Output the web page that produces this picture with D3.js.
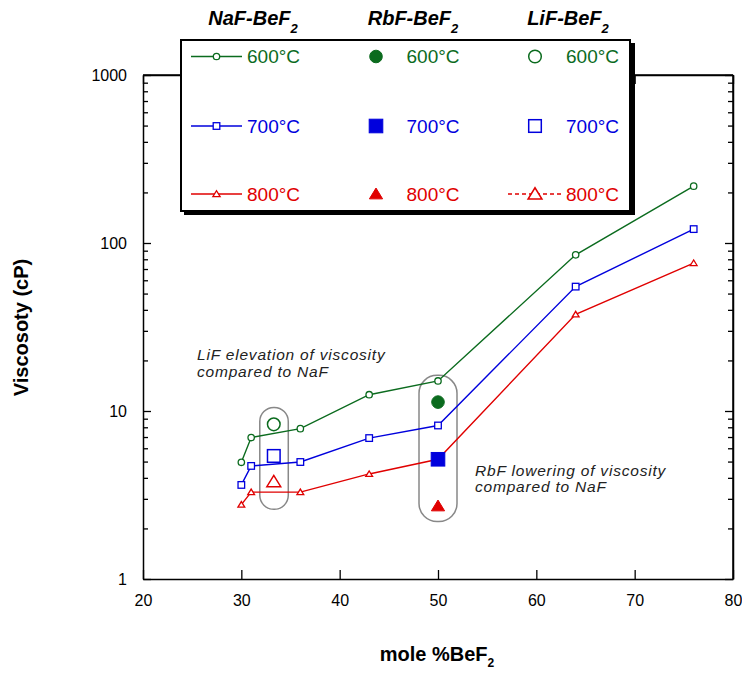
<!DOCTYPE html>
<html>
<head>
<meta charset="utf-8">
<script src="https://cdn.jsdelivr.net/npm/d3@7"></script>
<style>
  html, body { margin: 0; padding: 0; background: #fff; }
  svg { display: block; font-family: "Liberation Sans", Arial, Helvetica, sans-serif; }
</style>
</head>
<body>
<svg id="chart" width="742" height="675"></svg>
<script>
// ---- data ----
const nafX = [30, 31, 36, 43, 50, 64, 76];
const naf600 = [4.95, 6.95, 7.85, 12.5, 15.1, 85, 218];
const naf700 = [3.63, 4.71, 4.97, 6.9, 8.2, 55, 121];
const naf800 = [2.77, 3.29, 3.29, 4.22, 5.16, 37.6, 76];
const rbfX = [50];
const rbf600 = [11.3];
const rbf700 = [5.16];
const rbf800 = [2.72];
const lifX = [33.3];
const lif600 = [8.33];
const lif700 = [5.4];
const lif800 = [3.8];
const xTicks = [20, 30, 40, 50, 60, 70, 80];
const yTicks = [1, 10, 100, 1000];
const tempLabels = ["600°C", "700°C", "800°C"];
const systems = ["NaF-BeF", "RbF-BeF", "LiF-BeF"];
const colors = ["#0b6b1e", "#0000dd", "#e00000"];

// ---- setup ----
const svg = d3.select("#chart");
const x = d3.scaleLinear().domain([20, 80]).range([143, 733]);
const y = d3.scaleLog().domain([1, 1000]).range([579, 75]);

const minorY = [];
for (let d = 1; d < 1000; d *= 10) for (let k = 2; k <= 9; k++) minorY.push(d * k);

const frame = svg.append("g");
frame.append("line").attr("x1", x(20)).attr("x2", x(80)).attr("y1", y(1000)).attr("y2", y(1000))
  .attr("stroke", "#000").attr("stroke-width", 1.5);
frame.append("line").attr("x1", x(80)).attr("x2", x(80)).attr("y1", y(1000)).attr("y2", y(1))
  .attr("stroke", "#000").attr("stroke-width", 1.5);

function styleAxis(g) {
  g.select(".domain").attr("stroke", "#000").attr("stroke-width", 1.5);
  g.selectAll(".tick line").attr("stroke", "#000").attr("stroke-width", 1.3);
  g.selectAll(".tick text").attr("fill", "#000").style("font-size", "16px")
    .style("font-family", '"Liberation Sans", Arial, sans-serif');
}

const axLeft = svg.append("g").attr("transform", `translate(${x(20)},0)`)
  .call(d3.axisLeft(y).tickValues(yTicks).tickFormat(d3.format("d")).tickSizeInner(-8).tickSizeOuter(0).tickPadding(16));
styleAxis(axLeft);
const axLeftMinor = svg.append("g").attr("transform", `translate(${x(20)},0)`)
  .call(d3.axisLeft(y).tickValues(minorY).tickFormat("").tickSizeInner(-5).tickSizeOuter(0));
styleAxis(axLeftMinor);
axLeftMinor.select(".domain").remove();

const axRight = svg.append("g").attr("transform", `translate(${x(80)},0)`)
  .call(d3.axisRight(y).tickValues(yTicks).tickFormat("").tickSizeInner(-8).tickSizeOuter(0));
styleAxis(axRight);
const axRightMinor = svg.append("g").attr("transform", `translate(${x(80)},0)`)
  .call(d3.axisRight(y).tickValues(minorY).tickFormat("").tickSizeInner(-5).tickSizeOuter(0));
styleAxis(axRightMinor);
axRightMinor.select(".domain").remove();

const axBottom = svg.append("g").attr("transform", `translate(0,${y(1)})`)
  .call(d3.axisBottom(x).tickValues(xTicks).tickFormat(d3.format("d")).tickSizeInner(-9).tickSizeOuter(0).tickPadding(16));
styleAxis(axBottom);

const axTop = svg.append("g").attr("transform", `translate(0,${y(1000)})`)
  .call(d3.axisTop(x).tickValues(xTicks).tickFormat("").tickSizeInner(-9).tickSizeOuter(0));
styleAxis(axTop);

// axis titles
svg.append("text").attr("transform", "translate(28,327.5) rotate(-90)")
  .attr("text-anchor", "middle").style("font-weight", "bold").style("font-size", "20px")
  .text("Viscosoty (cP)");
const xt = svg.append("text").attr("x", 437).attr("y", 661).attr("text-anchor", "middle")
  .style("font-weight", "bold").style("font-size", "20px");
xt.append("tspan").text("mole %BeF");
xt.append("tspan").attr("dy", 6).style("font-size", "12px").text("2");

// ---- annotation capsules ----
const capsule = svg.append("g");
capsule.append("rect").attr("x", x(33.3) - 14).attr("y", y(10.5)).attr("width", 28.5)
  .attr("height", y(2.6) - y(10.5)).attr("rx", 14).attr("ry", 14)
  .attr("fill", "none").attr("stroke", "#888").attr("stroke-width", 1.5);
capsule.append("rect").attr("x", x(50) - 19).attr("y", y(16.3)).attr("width", 38)
  .attr("height", y(2.2) - y(16.3)).attr("rx", 18).attr("ry", 18)
  .attr("fill", "none").attr("stroke", "#888").attr("stroke-width", 1.5);

function note(xp, yp, lines) {
  lines.forEach((l, i) => {
    svg.append("text").attr("x", xp).attr("y", yp + i * 16.5)
      .style("font-style", "italic").style("font-size", "15.5px")
      .style("letter-spacing", "0.8px").attr("fill", "#222").text(l);
  });
}
note(197, 360, ["LiF elevation of viscosity", "compared to NaF"]);
note(475, 475.5, ["RbF lowering of viscosity", "compared to NaF"]);

// ---- markers ----
function marker(g, type, cx, cy, size, filled, color, sw) {
  const fill = filled ? color : "#fff";
  if (type === 0) {
    g.append("circle").attr("cx", cx).attr("cy", cy).attr("r", size)
      .attr("fill", fill).attr("stroke", color).attr("stroke-width", sw);
  } else if (type === 1) {
    g.append("rect").attr("x", cx - size).attr("y", cy - size).attr("width", 2 * size).attr("height", 2 * size)
      .attr("fill", fill).attr("stroke", color).attr("stroke-width", sw);
  } else {
    const h = size * 1.8;
    g.append("path").attr("d", `M${cx - size * 1.1},${cy + h * 0.45} L${cx + size * 1.1},${cy + h * 0.45} L${cx},${cy - h * 0.55} Z`)
      .attr("fill", fill).attr("stroke", color).attr("stroke-width", sw).attr("stroke-linejoin", "miter");
  }
}

const nafSeries = [naf600, naf700, naf800];
const line = d3.line().x(d => x(d[0])).y(d => y(d[1]));
const plot = svg.append("g");
nafSeries.forEach((vals, i) => {
  const pts = nafX.map((xv, j) => [xv, vals[j]]);
  plot.append("path").attr("d", line(pts)).attr("fill", "none")
    .attr("stroke", colors[i]).attr("stroke-width", 1.4);
});
nafSeries.forEach((vals, i) => {
  nafX.forEach((xv, j) => {
    if (i === 2 && xv === 50) return;
    const s = i === 0 ? 3.2 : (i === 1 ? 3.3 : 3.1);
    marker(plot, i, x(xv), y(vals[j]), s, false, colors[i], 1.3);
  });
});

[rbf600, rbf700, rbf800].forEach((vals, i) => {
  rbfX.forEach((xv, j) => {
    const s = i === 0 ? 6.3 : (i === 1 ? 6.8 : 6);
    marker(plot, i, x(xv), y(vals[j]), s, true, colors[i], 1);
  });
});
[lif600, lif700, lif800].forEach((vals, i) => {
  lifX.forEach((xv, j) => {
    marker(plot, i, x(xv), y(vals[j]), 6.3, false, colors[i], 1.5);
  });
});

// ---- legend ----
const lg = svg.append("g");
lg.append("rect").attr("x", 184).attr("y", 43).attr("width", 451).attr("height", 172).attr("fill", "#000");
lg.append("rect").attr("x", 181).attr("y", 40).attr("width", 449).attr("height", 171)
  .attr("fill", "#fff").attr("stroke", "#000").attr("stroke-width", 2);

const headX = [253, 413, 568];
systems.forEach((s, k) => {
  const t = lg.append("text").attr("x", headX[k]).attr("y", 25).attr("text-anchor", "middle")
    .style("font-weight", "bold").style("font-style", "italic").style("font-size", "20px");
  t.append("tspan").text(s);
  t.append("tspan").attr("dy", 8).style("font-size", "13px").text("2");
});

const rowY = [56.5, 126, 194];
const markX = [216.5, 376, 535];
const textX = [247, 406.5, 566];
tempLabels.forEach((lab, i) => {
  lg.append("line").attr("x1", 191).attr("x2", 242).attr("y1", rowY[i]).attr("y2", rowY[i])
    .attr("stroke", colors[i]).attr("stroke-width", 1.4);
  marker(lg, i, markX[0], rowY[i], i === 0 ? 3.2 : 3.3, false, colors[i], 1.3);
  marker(lg, i, markX[1], rowY[i], i === 0 ? 6.3 : (i === 1 ? 6.8 : 6), true, colors[i], 1);
  if (i === 2) {
    lg.append("line").attr("x1", 508).attr("x2", 562).attr("y1", rowY[i]).attr("y2", rowY[i])
      .attr("stroke", colors[i]).attr("stroke-width", 1.3).attr("stroke-dasharray", "4,3");
  }
  marker(lg, i, markX[2], rowY[i], 6.3, false, colors[i], 1.5);
  textX.forEach(tx => {
    lg.append("text").attr("x", tx).attr("y", rowY[i]).attr("dy", "0.36em")
      .attr("fill", colors[i]).style("font-size", "19px").text(lab);
  });
});
</script>
</body>
</html>
